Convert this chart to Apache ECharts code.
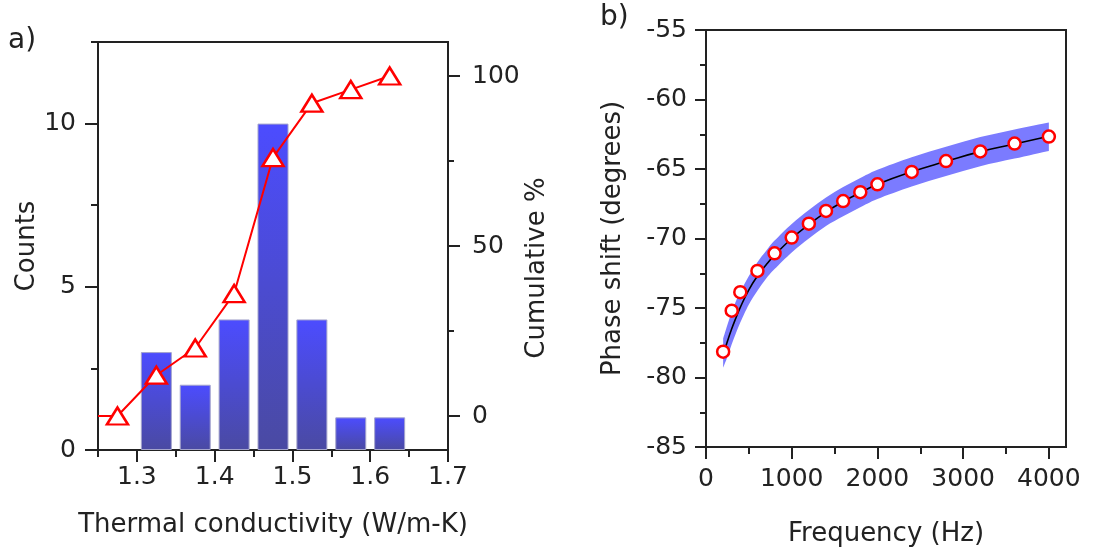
<!DOCTYPE html>
<html><head><meta charset="utf-8">
<script src="https://cdn.jsdelivr.net/npm/echarts@6/dist/echarts.min.js"></script>
<style>html,body{margin:0;padding:0;background:#fff}#c{width:1110px;height:552px}</style>
</head><body><div id="c"></div>
<script>
// Panel a) histogram
const binCenters = [1.325, 1.375, 1.425, 1.475, 1.525, 1.575, 1.625];
const binCounts = [3, 2, 4, 10, 4, 1, 1];
const cumX = [1.25, 1.275, 1.325, 1.375, 1.425, 1.475, 1.525, 1.575, 1.625];
const cumPct = [0, 0, 12, 20, 36, 76, 92, 96, 100];
const xTicksA = [1.3, 1.4, 1.5, 1.6, 1.7];
const countTicks = [0, 5, 10];
const cumTicks = [0, 50, 100];
const cumMinor = [0, 25, 50, 75, 100];
// Panel b) phase shift
const freq = [200, 300, 400, 600, 800, 1000, 1200, 1400, 1600, 1800, 2000, 2400, 2800, 3200, 3600, 4000];
const phase = [-78.14, -75.19, -73.86, -72.33, -71.07, -69.93, -68.93, -68.02, -67.31, -66.67, -66.10, -65.21, -64.43, -63.74, -63.17, -62.67];
const fitFreq = [200, 250, 300, 350, 400, 500, 600, 700, 800, 1000, 1200, 1400, 1600, 1800, 2000, 2400, 2800, 3200, 3600, 4000];
const fitPhase = [-78.4, -77.4, -76.5, -75.7, -74.95, -73.7, -72.7, -71.9, -71.2, -70.0, -69.0, -68.1, -67.35, -66.7, -66.1, -65.2, -64.45, -63.75, -63.2, -62.65];
const bandUpper = [-77.2, -76.2, -75.3, -74.5, -73.85, -72.7, -71.7, -70.9, -70.15, -68.95, -67.95, -67.05, -66.3, -65.65, -65.05, -64.15, -63.4, -62.7, -62.15, -61.65];
const bandLower = [-79.3, -78.5, -77.6, -76.8, -76.05, -74.75, -73.75, -72.9, -72.2, -71.0, -70.0, -69.1, -68.4, -67.75, -67.15, -66.25, -65.5, -64.8, -64.25, -63.7];
const freqTicks = [0, 1000, 2000, 3000, 4000];
const freqMinor = [0, 500, 1000, 1500, 2000, 2500, 3000, 3500, 4000];
const phaseTicks = [-85, -80, -75, -70, -65, -60, -55];

const FONT = 'DejaVu Sans';
const INK = '#222';
const lab = {fontFamily: FONT, fontSize: 25, color: INK};
const ttl = {fontFamily: FONT, fontSize: 26, color: INK};
const line = {show: true, lineStyle: {color: INK, width: 2}};

const chart = echarts.init(document.getElementById('c'), null, {renderer: 'canvas'});
chart.setOption({
  animation: false,
  backgroundColor: '#fff',
  grid: [
    {left: 98, right: 662, top: 42, bottom: 102, show: true, borderColor: INK, borderWidth: 2, backgroundColor: 'transparent'},
    {left: 706, right: 44, top: 30, bottom: 102, show: true, borderColor: INK, borderWidth: 2, backgroundColor: 'transparent'}
  ],
  graphic: [
    {type: 'text', left: 8, top: 27, style: {text: 'a)', font: '28px "DejaVu Sans"', fill: INK}},
    {type: 'text', left: 600, top: 4, style: {text: 'b)', font: '28px "DejaVu Sans"', fill: INK}}
  ],
  xAxis: [
    {gridIndex: 0, type: 'value', min: 1.25, max: 1.7, interval: 0.05, position: 'bottom',
     name: 'Thermal conductivity (W/m-K)', nameLocation: 'middle', nameGap: 62, nameTextStyle: ttl,
     axisLine: line, splitLine: {show: false},
     axisTick: {show: true, inside: false, length: 7, lineStyle: {color: INK, width: 2}},
     axisLabel: Object.assign({margin: 15, customValues: xTicksA, formatter: v => v.toFixed(1)}, lab)},
    {gridIndex: 0, type: 'value', min: 1.25, max: 1.7, position: 'bottom', axisLine: {show: false}, splitLine: {show: false},
     axisTick: {show: true, length: 12, customValues: xTicksA, lineStyle: {color: INK, width: 2}}, axisLabel: {show: false}},
    {gridIndex: 1, type: 'value', min: 0, max: 4200, position: 'bottom',
     name: 'Frequency (Hz)', nameLocation: 'middle', nameGap: 74, nameTextStyle: ttl,
     axisLine: line, splitLine: {show: false},
     axisTick: {show: true, length: 7, customValues: freqMinor, lineStyle: {color: INK, width: 2}},
     axisLabel: Object.assign({margin: 20, customValues: freqTicks, formatter: v => String(v)}, lab)},
    {gridIndex: 1, type: 'value', min: 0, max: 4200, position: 'bottom', axisLine: {show: false}, splitLine: {show: false},
     axisTick: {show: true, length: 12, customValues: freqTicks, lineStyle: {color: INK, width: 2}}, axisLabel: {show: false}}
  ],
  yAxis: [
    {gridIndex: 0, type: 'value', min: 0, max: 12.5, interval: 2.5, position: 'left',
     name: 'Counts', nameLocation: 'middle', nameGap: 58, nameRotate: 90, nameTextStyle: ttl,
     axisLine: line, splitLine: {show: false},
     axisTick: {show: true, length: 7, lineStyle: {color: INK, width: 2}},
     axisLabel: Object.assign({margin: 22, customValues: countTicks}, lab)},
    {gridIndex: 0, type: 'value', min: 0, max: 12.5, position: 'left', axisLine: {show: false}, splitLine: {show: false},
     axisTick: {show: true, length: 13, customValues: countTicks, lineStyle: {color: INK, width: 2}}, axisLabel: {show: false}},
    {gridIndex: 0, type: 'value', min: -10, max: 110, position: 'right',
     name: 'Cumulative %', nameLocation: 'middle', nameGap: 76, nameRotate: 90,
     nameTextStyle: Object.assign({padding: [0, 44, 0, 0]}, ttl),
     axisLine: line, splitLine: {show: false},
     axisTick: {show: true, length: 6, customValues: cumMinor, lineStyle: {color: INK, width: 2}},
     axisLabel: Object.assign({margin: 24, customValues: cumTicks}, lab)},
    {gridIndex: 0, type: 'value', min: -10, max: 110, position: 'right', axisLine: {show: false}, splitLine: {show: false},
     axisTick: {show: true, length: 12, customValues: cumTicks, lineStyle: {color: INK, width: 2}}, axisLabel: {show: false}},
    {gridIndex: 1, type: 'value', min: -85, max: -55, interval: 2.5, position: 'left',
     name: 'Phase shift (degrees)', nameLocation: 'middle', nameGap: 80, nameRotate: 90, nameTextStyle: ttl,
     axisLine: line, splitLine: {show: false},
     axisTick: {show: true, length: 6, lineStyle: {color: INK, width: 2}},
     axisLabel: Object.assign({margin: 19, customValues: phaseTicks}, lab)},
    {gridIndex: 1, type: 'value', min: -85, max: -55, position: 'left', axisLine: {show: false}, splitLine: {show: false},
     axisTick: {show: true, length: 11, customValues: phaseTicks, lineStyle: {color: INK, width: 2}}, axisLabel: {show: false}}
  ],
  series: [
    {type: 'bar', xAxisIndex: 0, yAxisIndex: 0, barWidth: 31, z: 2,
     data: binCenters.map((x, i) => [x, binCounts[i]]),
     itemStyle: {color: new echarts.graphic.LinearGradient(0, 0, 0, 1, [{offset: 0, color: '#4c4cff'}, {offset: 1, color: '#4a4aa2'}]),
                 borderColor: '#a4a4cc', borderWidth: 1}},
    {type: 'line', xAxisIndex: 0, yAxisIndex: 2, z: 5,
     data: cumX.map((x, i) => i === 0 ? {value: [x, cumPct[i]], symbol: 'none'} : [x, cumPct[i]]),
     symbol: 'triangle', symbolSize: [21, 17], showAllSymbol: true,
     lineStyle: {color: '#ff0000', width: 2},
     itemStyle: {color: '#ffffff', borderColor: '#ff0000', borderWidth: 2.5}},
    {type: 'custom', xAxisIndex: 2, yAxisIndex: 4, z: 1, silent: true, data: [0],
     renderItem: function (params, api) {
       const up = fitFreq.map((f, i) => api.coord([f, bandUpper[i]]));
       const lo = fitFreq.map((f, i) => api.coord([f, bandLower[i]])).reverse();
       const children = [
         {type: 'polyline', shape: {points: up, smooth: 0.3}, style: {stroke: 'none'}}
       ];
       return {type: 'group', children: [{
         type: 'path',
         shape: {pathData: buildPath(up, lo)},
         style: {fill: '#7b7bff'}
       }]};
     }},
    {type: 'line', xAxisIndex: 2, yAxisIndex: 4, z: 3, smooth: true, symbol: 'none',
     data: fitFreq.map((f, i) => [f, fitPhase[i]]), lineStyle: {color: '#000', width: 1.6}},
    {type: 'scatter', xAxisIndex: 2, yAxisIndex: 4, z: 5, symbol: 'circle', symbolSize: 12,
     data: freq.map((f, i) => [f, phase[i]]),
     itemStyle: {color: '#fff', borderColor: '#ff0000', borderWidth: 2.5, opacity: 1}}
  ]
});

// Smooth (Catmull-Rom) edges joined by straight vertical ends
function smoothSeg(pts, start) {
  let d = start ? 'M' + pts[0][0] + ' ' + pts[0][1] : 'L' + pts[0][0] + ' ' + pts[0][1];
  for (let i = 0; i < pts.length - 1; i++) {
    const p0 = pts[Math.max(i - 1, 0)], p1 = pts[i], p2 = pts[i + 1], p3 = pts[Math.min(i + 2, pts.length - 1)];
    const c1 = [p1[0] + (p2[0] - p0[0]) / 6, p1[1] + (p2[1] - p0[1]) / 6];
    const c2 = [p2[0] - (p3[0] - p1[0]) / 6, p2[1] - (p3[1] - p1[1]) / 6];
    d += ' C' + c1[0] + ' ' + c1[1] + ' ' + c2[0] + ' ' + c2[1] + ' ' + p2[0] + ' ' + p2[1];
  }
  return d;
}
function buildPath(up, lo) {
  return smoothSeg(up, true) + ' ' + smoothSeg(lo, false) + ' Z';
}
</script></body></html>
